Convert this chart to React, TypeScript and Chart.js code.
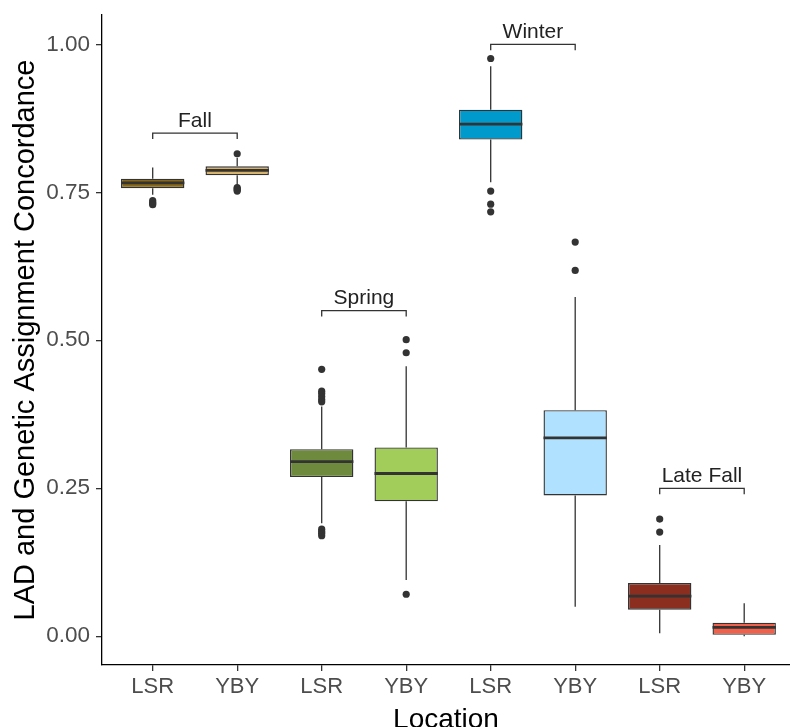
import React, { useEffect, useRef } from "react";
import { Chart, registerables } from "chart.js";

Chart.register(...registerables);

// ---- data ----
const categories = ["LSR", "YBY", "LSR", "YBY", "LSR", "YBY", "LSR", "YBY"];
const whiskerLow = [0.746, 0.762, 0.191, 0.095, 0.767, 0.05, 0.005, 0.0];
const q1 = [0.757, 0.779, 0.269, 0.228, 0.839, 0.238, 0.045, 0.0025];
const medians = [0.766, 0.787, 0.295, 0.275, 0.865, 0.335, 0.068, 0.015];
const q3 = [0.773, 0.794, 0.316, 0.319, 0.8895, 0.382, 0.09, 0.023];
const whiskerHigh = [0.792, 0.808, 0.388, 0.456, 0.963, 0.573, 0.154, 0.056];
const outliers: number[][] = [
  [0.736, 0.733, 0.731, 0.729],
  [0.815, 0.758, 0.756, 0.754, 0.752],
  [0.451, 0.414, 0.41, 0.405, 0.4, 0.396, 0.181, 0.177, 0.174, 0.17],
  [0.501, 0.479, 0.071],
  [0.976, 0.752, 0.73, 0.717],
  [0.666, 0.618],
  [0.198, 0.176],
  [],
];
const boxColors = [
  "#8B6914",
  "#D8B060",
  "#6E8B3D",
  "#A2CD5A",
  "#009ACD",
  "#B0E2FF",
  "#8B2E1F",
  "#F0604A",
];
const groupNames = ["Fall", "Spring", "Winter", "Late Fall"];
const groupStart = [0, 2, 4, 6];
const groupEnd = [1, 3, 5, 7];
const bracketY = [0.85, 0.55, 1.0, 0.25];
const bracketTick = 0.01;
const yTicks = [0, 0.25, 0.5, 0.75, 1.0];

const FONT = "'Liberation Sans', Arial, sans-serif";

const boxPlugin = {
  id: "boxParts",
  beforeDatasetsDraw(chart: any) {
    const { ctx, scales } = chart;
    const x = scales.x;
    const y = scales.y;
    ctx.save();
    ctx.strokeStyle = "#333333";
    ctx.lineWidth = 1.3;
    categories.forEach((_, i) => {
      const px = x.getPixelForValue(i);
      ctx.beginPath();
      ctx.moveTo(px, y.getPixelForValue(q3[i]));
      ctx.lineTo(px, y.getPixelForValue(whiskerHigh[i]));
      ctx.moveTo(px, y.getPixelForValue(q1[i]));
      ctx.lineTo(px, y.getPixelForValue(whiskerLow[i]));
      ctx.stroke();
    });
    ctx.restore();
  },
  afterDatasetsDraw(chart: any) {
    const { ctx, scales } = chart;
    const x = scales.x;
    const y = scales.y;
    const meta = chart.getDatasetMeta(1);
    ctx.save();
    ctx.strokeStyle = "#333333";
    ctx.lineWidth = 2.8;
    meta.data.forEach((el: any, i: number) => {
      const half = el.width / 2;
      const py = y.getPixelForValue(medians[i]);
      ctx.beginPath();
      ctx.moveTo(el.x - half, py);
      ctx.lineTo(el.x + half, py);
      ctx.stroke();
    });
    // brackets
    ctx.lineWidth = 1.3;
    ctx.strokeStyle = "#333333";
    ctx.fillStyle = "#222222";
    ctx.font = `21px ${FONT}`;
    ctx.textAlign = "center";
    ctx.textBaseline = "alphabetic";
    groupNames.forEach((name, g) => {
      const x0 = x.getPixelForValue(groupStart[g]);
      const x1 = x.getPixelForValue(groupEnd[g]);
      const py = y.getPixelForValue(bracketY[g]);
      const pt = y.getPixelForValue(bracketY[g] - bracketTick);
      ctx.beginPath();
      ctx.moveTo(x0, pt);
      ctx.lineTo(x0, py);
      ctx.lineTo(x1, py);
      ctx.lineTo(x1, pt);
      ctx.stroke();
      ctx.fillText(name, (x0 + x1) / 2, py - 6.5);
    });
    ctx.restore();
  },
};

export default function App() {
  const ref = useRef<HTMLCanvasElement>(null);

  useEffect(() => {
    const outlierPoints: { x: number; y: number }[] = [];
    outliers.forEach((arr, i) => arr.forEach((v) => outlierPoints.push({ x: i, y: v })));

    const chart = new Chart(ref.current as HTMLCanvasElement, {
      type: "bar",
      data: {
        datasets: [
          {
            type: "scatter",
            data: outlierPoints,
            pointRadius: 3.6,
            pointBackgroundColor: "#333333",
            pointBorderWidth: 0,
            order: 0,
          } as any,
          {
            type: "bar",
            data: categories.map((_, i) => ({ x: i, y: [q1[i], q3[i]] })),
            backgroundColor: boxColors,
            borderColor: "#333333",
            borderWidth: 1.4,
            borderSkipped: false,
            barPercentage: 0.75,
            categoryPercentage: 1,
            order: 1,
          } as any,
        ],
      },
      options: {
        animation: false,
        responsive: false,
        maintainAspectRatio: false,
        layout: { autoPadding: false, padding: { top: 15, left: 0, right: 0, bottom: 0 } },
        plugins: {
          legend: { display: false },
          tooltip: { enabled: false },
        },
        scales: {
          x: {
            type: "linear",
            min: -0.6,
            max: 7.542,
            offset: false,
            afterBuildTicks: (s: any) => {
              s.ticks = categories.map((_, i) => ({ value: i }));
            },
            afterFit: (s: any) => {
              s.height = 62;
              s.paddingLeft = 0;
              s.paddingRight = 0;
            },
            ticks: {
              autoSkip: false,
              maxRotation: 0,
              padding: 3,
              color: "#4D4D4D",
              font: { family: FONT, size: 22 },
              callback: (v: any) => categories[Math.round(Number(v))] ?? "",
            },
            grid: {
              offset: false,
              drawOnChartArea: false,
              drawTicks: true,
              tickLength: 6,
              color: "#333333",
              lineWidth: 1.3,
            },
            border: { display: true, color: "#000000", width: 1.3 },
            title: {
              display: true,
              text: "Location",
              color: "#000000",
              font: { family: FONT, size: 28, lineHeight: 0.5 },
              padding: { top: 0, bottom: 0 },
            },
          } as any,
          y: {
            type: "linear",
            min: -0.0485,
            max: 1.0495,
            afterBuildTicks: (s: any) => {
              s.ticks = yTicks.map((v) => ({ value: v }));
            },
            afterFit: (s: any) => {
              s.width = 102;
              s.paddingTop = 0;
              s.paddingBottom = 0;
            },
            ticks: {
              padding: 6,
              color: "#4D4D4D",
              font: { family: FONT, size: 22.5 },
              callback: (v: any) => Number(v).toFixed(2),
            },
            grid: {
              drawOnChartArea: false,
              drawTicks: true,
              tickLength: 6,
              color: "#333333",
              lineWidth: 1.3,
            },
            border: { display: true, color: "#000000", width: 1.3 },
            title: {
              display: true,
              text: "LAD and Genetic Assignment Concordance",
              color: "#000000",
              font: { family: FONT, size: 29 },
              padding: { top: 9, bottom: 0 },
            },
          } as any,
        },
      },
      plugins: [boxPlugin as any],
    });
    return () => chart.destroy();
  }, []);

  return (
    <div style={{ position: "fixed", left: 0, top: 0, width: 790, height: 727, background: "#fff" }}>
      <canvas ref={ref} width={790} height={727} style={{ display: "block" }} />
    </div>
  );
}
